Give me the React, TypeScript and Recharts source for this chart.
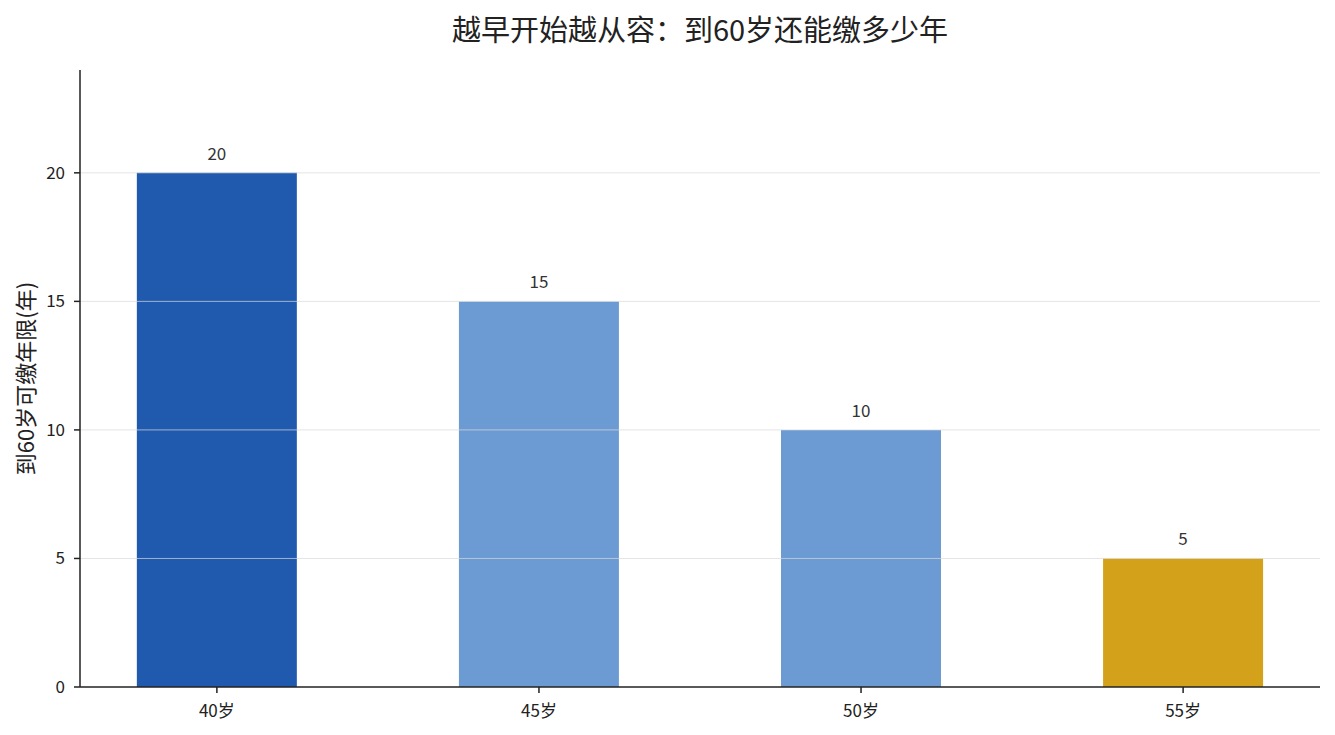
import React from "react";
import { BarChart, Bar, XAxis, YAxis, Cell, LabelList, ReferenceLine } from "recharts";

const categories = ["40岁", "45岁", "50岁", "55岁"];
const years = [20, 15, 10, 5];
const barColors = ["#1f5aaf", "#6c9bd3", "#6c9bd3", "#d4a11b"];
const yTicks = [0, 5, 10, 15, 20];
const gridValues = [5, 10, 15, 20];

const data = categories.map((c, i) => ({ idx: i, name: c, value: years[i] }));

const FONT = "'Noto Sans CJK SC', 'Noto Sans', sans-serif";

export default function App() {
  return (
    <div style={{ position: "absolute", left: 0, top: 0, width: 1335, height: 735, background: "#fff", fontFamily: FONT }}>
      <div
        style={{
          position: "absolute",
          left: 0,
          width: 1335,
          top: 8,
          textAlign: "center",
          fontSize: 29,
          lineHeight: "40px",
          color: "#222",
          paddingLeft: 65,
          boxSizing: "border-box",
        }}
      >
        越早开始越从容：到60岁还能缴多少年
      </div>
      <BarChart
        width={1335}
        height={735}
        data={data}
        margin={{ top: 70, right: 15, bottom: 0, left: 0 }}
        style={{ fontFamily: FONT }}
      >
        <XAxis
          type="number"
          dataKey="idx"
          domain={[-0.425, 3.425]}
          ticks={[0, 1, 2, 3]}
          tickFormatter={(v: number) => categories[v] ?? ""}
          allowDataOverflow
          height={48}
          tickSize={6}
          tickMargin={12}
          tick={{ fill: "#222", fontSize: 17 }}
          axisLine={{ stroke: "#222", strokeWidth: 1.5 }}
          tickLine={{ stroke: "#222", strokeWidth: 1.5 }}
        />
        <YAxis
          type="number"
          domain={[0, 24]}
          ticks={yTicks}
          allowDataOverflow
          width={80}
          tickSize={6}
          tickMargin={9}
          tick={{ fill: "#222", fontSize: 17 }}
          axisLine={{ stroke: "#222", strokeWidth: 1.5 }}
          tickLine={{ stroke: "#222", strokeWidth: 1.5 }}
          label={{
            value: "到60岁可缴年限(年)",
            angle: -90,
            position: "insideLeft",
            offset: 26,
            style: { textAnchor: "middle", fill: "#222", fontSize: 22 },
          }}
        />
        <Bar dataKey="value" barSize={160} isAnimationActive={false}>
          {data.map((d, i) => (
            <Cell key={d.name} fill={barColors[i]} />
          ))}
          <LabelList dataKey="value" position="top" offset={13} style={{ fill: "#333", fontSize: 17 }} />
        </Bar>
        {gridValues.map((g) => (
          <ReferenceLine key={g} y={g} stroke="#d8d8d8" strokeOpacity={0.7} strokeWidth={1} />
        ))}
      </BarChart>
    </div>
  );
}
